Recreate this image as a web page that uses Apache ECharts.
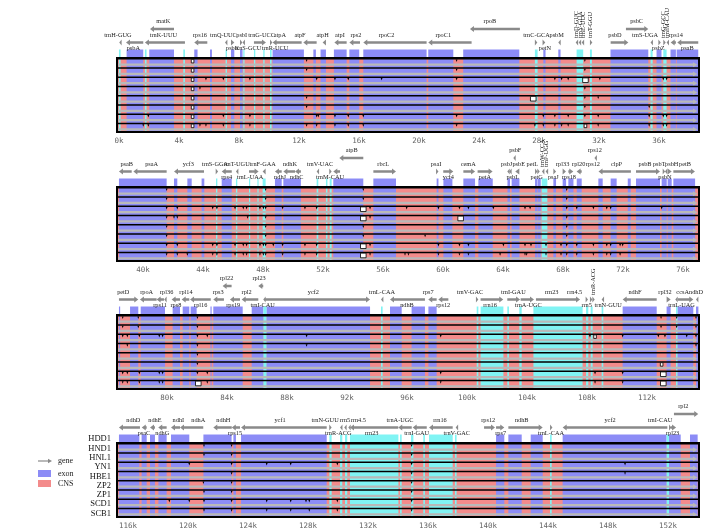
<!DOCTYPE html>
<html><head><meta charset="utf-8">
<script src="https://cdn.jsdelivr.net/npm/echarts@6/dist/echarts.min.js"></script>
<style>html,body{margin:0;padding:0;background:#fff}#c{width:728px;height:532px}</style>
</head><body><div id="c"></div>
<script>
// ---------- DATA ----------
const refName = 'HDD1';
const trackNames = ['HND1','HNL1','YN1','HBE1','ZP2','ZP1','SCD1','SCB1'];
const panelRanges = [[-0.13,38.67],[38.27,77.07],[76.67,115.47],[115.27,154.07]];
const axisLabelValues = [0,4,8,12,16,20,24,28,32,36,40,44,48,52,56,60,64,68,72,76,80,84,88,92,96,100,104,108,112,116,120,124,128,132,136,140,144,148,152];
const legendItems = ['gene','exon','CNS'];

// regions: [start kb, end kb, 'e' exon | 'c' rRNA/tRNA]
const exons1 = [[0.0,0.11,'c'],[0.51,1.62,'e'],[1.73,1.84,'c'],[2.02,3.67,'e'],[4.29,4.4,'c'],[5.02,5.24,'e'],[6.07,6.2,'e'],[7.11,7.2,'c'],[7.47,7.69,'e'],[8.07,8.24,'e'],[8.29,8.36,'c'],[9.0,9.09,'c'],[9.62,9.71,'c'],[10.07,10.18,'c'],[10.24,12.33,'e'],[12.96,13.13,'e'],[13.44,13.8,'e'],[14.33,15.18,'e'],[15.36,16.02,'e'],[16.29,20.51,'e'],[20.62,22.29,'e'],[22.95,26.69,'e'],[27.73,27.91,'c'],[28.29,28.44,'e'],[29.29,29.44,'e'],[30.51,30.95,'c'],[31.4,31.53,'c'],[32.77,35.29,'e'],[35.44,35.58,'c'],[35.84,36.17,'e'],[36.29,36.51,'c'],[36.77,37.13,'e'],[37.18,38.62,'e']];
const exons2 = [[38.4,41.58,'e'],[42.07,42.29,'e'],[42.96,43.25,'e'],[43.91,44.09,'e'],[44.87,44.96,'c'],[45.25,45.92,'e'],[46.2,46.29,'c'],[47.07,47.14,'c'],[47.63,47.71,'c'],[47.98,48.18,'c'],[48.8,49.25,'e'],[49.36,50.53,'e'],[51.58,51.69,'c'],[52.2,52.3,'c'],[52.45,52.58,'c'],[52.69,54.69,'e'],[55.36,56.87,'e'],[59.58,59.7,'e'],[60.03,60.63,'e'],[61.36,62.14,'e'],[62.36,63.32,'e'],[64.3,64.47,'e'],[64.58,65.1,'e'],[66.14,66.3,'e'],[66.32,66.52,'e'],[66.58,66.96,'c'],[67.36,67.54,'e'],[67.98,68.21,'e'],[68.36,68.7,'e'],[68.92,69.25,'e'],[70.36,70.65,'e'],[71.18,71.58,'e'],[72.32,72.52,'e'],[72.87,74.47,'e'],[74.58,74.92,'e'],[74.98,75.25,'e'],[75.36,76.81,'e']];
const exons3 = [[76.8,76.87,'e'],[77.54,78.09,'e'],[78.25,79.87,'e'],[80.38,80.87,'e'],[81.05,81.49,'e'],[81.58,81.98,'e'],[82.9,82.98,'e'],[83.09,85.05,'e'],[85.65,86.43,'e'],[86.43,86.65,'c'],[86.65,93.54,'e'],[94.27,94.38,'c'],[94.87,95.65,'e'],[96.31,97.2,'e'],[97.43,97.98,'e'],[100.65,100.76,'c'],[100.91,102.43,'c'],[102.69,102.8,'c'],[103.49,103.65,'c'],[104.43,107.71,'c'],[107.94,108.09,'c'],[108.25,108.38,'c'],[108.98,109.09,'c'],[110.38,112.65,'e'],[113.31,113.58,'e'],[113.94,114.05,'c'],[114.05,115.09,'e'],[115.27,115.43,'e']];
const exons4 = [[115.4,116.76,'e'],[116.91,117.25,'e'],[117.47,117.8,'e'],[118.03,118.58,'e'],[118.87,120.09,'e'],[121.03,122.91,'e'],[123.03,123.2,'e'],[123.54,129.25,'e'],[129.43,129.58,'c'],[130.14,130.29,'c'],[130.47,130.62,'c'],[130.8,134.03,'c'],[134.14,134.25,'c'],[134.87,135.03,'c'],[135.69,135.8,'c'],[136.07,137.65,'c'],[137.8,137.91,'c'],[140.54,141.09,'e'],[141.36,142.25,'e'],[142.85,143.65,'e'],[144.14,144.25,'c'],[144.98,151.91,'e'],[151.91,152.07,'c'],[152.07,152.85,'e'],[153.47,153.98,'e']];

// genes: [name, start, end, strand, row(0 main / 1 upper), label ('a' above,'b' below,'v' vertical,'' none), label position kb]
const genes1 = [['trnH-GUG',0.02,0.16,-1,0,'a',-0.07],['psbA',0.47,1.62,-1,0,'b',0.96],['matK',2.07,3.67,-1,1,'a',2.96],['trnK-UUU',1.73,4.4,-1,0,'a',2.96],['rps16',5.02,5.89,-1,0,'a',5.4],['trnQ-UUC',7.07,7.2,-1,0,'a',6.96],['psbK',7.47,7.69,1,0,'b',7.58],['psbI',8.07,8.18,1,0,'a',8.18],['trnS-GCU',8.24,8.36,-1,0,'b',8.62],['trnG-UCC',9.0,9.8,1,0,'a',9.51],['trnR-UCU',10.07,10.16,1,0,'b',10.4],['atpA',10.24,12.18,-1,0,'a',10.73],['atpF',12.29,13.18,-1,0,'a',12.07],['atpH',13.58,13.8,-1,0,'a',13.58],['atpI',14.36,15.18,-1,0,'a',14.73],['rps2',15.36,16.07,-1,0,'a',15.8],['rpoC2',16.29,20.51,-1,0,'a',17.84],['rpoC1',20.62,23.51,-1,0,'a',21.62],['rpoB',23.4,26.73,-1,1,'a',24.73],['trnC-GCA',27.73,27.89,1,0,'a',27.84],['petN',28.24,28.42,1,0,'b',28.4],['psbM',29.29,29.44,-1,0,'a',29.18],['trnD-GUC',30.45,30.55,-1,0,'v',30.47],['trnY-GUA',30.65,30.75,-1,0,'v',30.73],['trnE-UUC',30.85,30.95,-1,0,'v',30.96],['trnT-GGU',31.4,31.5,1,0,'v',31.44],['psbD',32.78,33.96,1,0,'a',33.07],['psbC',33.8,35.29,1,1,'a',34.51],['trnS-UGA',35.44,35.58,-1,0,'a',35.07],['psbZ',35.96,36.11,1,0,'b',35.96],['trnG-GCC',36.29,36.42,1,0,'v',36.29],['trnfM-CAU',36.51,36.64,-1,0,'v',36.55],['rps14',36.78,37.13,-1,0,'a',37.13],['psaB',37.22,38.62,-1,0,'b',37.89]];
const genes2 = [['psaB',38.4,39.25,-1,0,'a',38.92],['psaA',39.36,41.58,-1,0,'a',40.58],['ycf3',42.07,44.07,-1,0,'a',43.02],['trnS-GGA',44.85,44.96,1,0,'a',44.8],['rps4',45.25,45.92,-1,0,'b',45.58],['trnT-UGU',46.2,46.29,-1,0,'a',46.25],['trnL-UAA',47.07,47.71,1,0,'b',47.14],['trnF-GAA',47.98,48.18,-1,0,'a',47.98],['ndhJ',48.8,49.25,-1,0,'b',49.14],['ndhK',49.36,50.14,-1,0,'a',49.8],['ndhC',50.14,50.53,-1,0,'b',50.25],['trnV-UAC',51.58,51.69,-1,0,'a',51.8],['trnM-CAU',52.42,52.54,1,0,'b',52.47],['atpE',52.69,53.14,-1,0,'',0],['atpB',53.09,54.69,-1,1,'a',53.92],['rbcL',55.36,56.87,1,0,'a',56.02],['psaI',59.54,59.65,1,0,'a',59.54],['ycf4',60.02,60.69,1,0,'b',60.36],['cemA',61.36,62.14,1,0,'a',61.69],['petA',62.31,63.31,1,0,'b',62.8],['psbJ',64.29,64.42,-1,0,'a',64.25],['psbL',64.42,64.56,-1,0,'b',64.65],['psbF',64.69,64.82,-1,1,'a',64.82],['psbE',64.82,65.09,-1,0,'a',65.05],['petL',66.14,66.25,1,0,'a',65.96],['petG',66.29,66.42,1,0,'b',66.25],['trnW-CCA',66.6,66.7,-1,0,'v',66.65],['trnP-UGG',66.85,66.95,-1,0,'v',66.9],['psaJ',67.36,67.54,1,0,'b',67.36],['rpl33',67.98,68.2,1,0,'a',67.98],['rps18',68.36,68.69,1,0,'b',68.4],['rpl20',68.91,69.25,-1,0,'a',69.05],['rps12',70.1,70.2,-1,1,'a',70.13],['rps12',70.0,70.0,-1,0,'a',70.0],['clpP',70.37,72.53,-1,0,'a',71.57],['psbB',72.87,74.47,1,0,'a',73.47],['psbT',74.65,74.8,1,0,'a',74.42],['psbN',74.8,74.91,-1,0,'b',74.8],['psbH',74.98,75.25,1,0,'a',75.25],['petB',75.36,76.8,1,0,'a',76.14]];
const genes3 = [['petD',76.8,78.09,1,0,'a',77.09],['rpoA',78.2,79.31,-1,0,'a',78.65],['rps11',79.31,79.8,-1,0,'b',79.54],['rpl36',79.82,79.98,-1,0,'a',79.98],['rps8',80.31,80.87,-1,0,'b',80.6],['rpl14',80.98,81.49,-1,0,'a',81.27],['rpl16',81.54,82.92,-1,0,'b',82.25],['rps3',83.09,83.8,-1,0,'a',83.42],['rpl22',83.71,84.31,-1,1,'a',83.98],['rps19',84.2,84.87,-1,0,'b',84.42],['rpl2',84.98,86.09,-1,0,'a',85.31],['rpl23',86.09,86.42,-1,1,'a',86.14],['trnI-CAU',86.42,86.56,-1,0,'b',86.38],['ycf2',86.54,93.54,1,0,'a',89.76],['trnL-CAA',94.27,94.38,-1,0,'a',94.33],['ndhB',94.87,97.2,-1,0,'b',96.0],['rps7',97.42,97.98,-1,0,'a',97.42],['rps12',98.09,98.76,-1,0,'b',98.42],['trnV-GAC',100.6,100.74,1,0,'a',100.2],['rrn16',100.91,102.42,1,0,'b',101.54],['trnI-GAU',102.69,103.54,1,0,'a',103.09],['trnA-UGC',103.58,104.47,1,0,'b',104.09],['rrn23',104.6,107.54,1,0,'a',105.65],['rrn4.5',107.91,108.02,1,0,'a',107.18],['rrn5',108.2,108.31,1,0,'b',107.98],['trnR-ACG',108.36,108.44,1,0,'v',108.4],['trnN-GUU',108.98,109.09,-1,0,'b',109.42],['ndhF',110.38,112.65,-1,0,'a',111.2],['rpl32',113.31,113.58,1,0,'a',113.2],['trnL-UAG',113.89,114.0,-1,0,'b',114.31],['ccsA',114.05,115.09,1,0,'a',114.38],['ndhD',115.27,115.42,-1,0,'a',115.27]];
const genes4 = [['ndhD',115.4,116.8,-1,0,'a',116.36],['psaC',116.92,117.25,-1,0,'b',117.07],['ndhE',117.47,117.8,-1,0,'a',117.8],['ndhG',118.02,118.58,-1,0,'b',118.29],['ndhI',118.87,119.47,-1,0,'a',119.36],['ndhA',119.47,121.02,-1,0,'a',120.69],['ndhH',121.69,122.92,-1,0,'a',122.36],['rps15',122.92,123.47,-1,0,'b',123.14],['ycf1',123.54,129.25,-1,0,'a',126.14],['trnN-GUU',129.42,129.54,1,0,'a',129.14],['trnR-ACG',130.14,130.25,-1,0,'b',130.02],['rrn5',130.42,130.54,-1,0,'a',130.47],['rrn4.5',130.69,130.8,-1,0,'a',131.36],['rrn23',130.8,134.02,-1,0,'b',132.25],['trnA-UGC',134.02,134.92,-1,0,'a',134.14],['trnI-GAU',134.98,135.92,-1,0,'b',135.25],['rrn16',136.07,137.65,-1,0,'a',136.8],['trnV-GAC',137.85,137.96,-1,0,'b',137.92],['rps12',139.74,140.47,1,0,'a',140.02],['rps7',140.54,141.09,1,0,'b',140.85],['ndhB',141.36,143.65,1,0,'a',142.25],['trnL-CAA',144.14,144.25,1,0,'b',144.2],['ycf2',144.98,151.96,-1,0,'a',148.14],['trnI-CAU',152.07,152.2,1,0,'a',151.47],['rpl23',152.2,152.54,1,0,'b',152.31],['rpl2',152.4,154.02,1,1,'a',153.02]];

// similarity dips (kb) per track, positions shared by all tracks, and larger gaps [kb, track, size]
const dips1 = [[12.51,22.51,31.06],[12.51,22.51,31.06],[5.8,6.96,8.73,13.18,14.4,15.29,17.51,22.51,29.06,29.51,29.95,32.06,36.29,36.51],[5.4,31.06],[12.51,31.06,31.95],[12.51,31.06,35.35],[1.96,6.96,8.73,13.18,13.29,14.4,15.29,16.29,22.51,28.29,29.06,29.95,31.06,31.95,35.35,36.29,36.51],[1.62,1.96,5.4,5.8,6.96,8.73,12.51,13.18,14.4,15.29,16.29,22.51,27.73,28.29,29.06,29.51,29.95,31.95,35.35,36.29,36.51]];
const dipsAll1 = [];
const gaps1 = [[4.91,0,1],[4.91,1,1],[4.91,2,1],[4.91,3,1],[4.91,4,1],[4.91,5,1],[4.91,6,1],[4.91,7,1],[31.1,2,2],[27.62,4,2],[31.1,7,1]];
const dips2 = [[],[],[42.29,44.65,44.93,46.14,46.69,46.91,47.8,48.03,49.31,50.8,51.58,55.14,57.58,59.7,61.1,61.7,63.36,65.47,65.81,68.92,70.03,70.92,71.18,74.58],[42.07,42.29,46.98,55.14],[],[58.81],[42.29,44.65,44.93,46.14,46.69,46.91,47.8,48.03,48.69,49.31,50.8,51.58,55.14,59.7,61.1,61.7,64.03,65.47,65.87,66.87,67.87,68.92,70.03,70.92,71.18,71.81,71.98],[42.29,42.96,44.65,44.93,46.14,46.69,46.91,47.8,48.03,49.31,50.8,51.58,55.14,57.47,57.7,59.7,61.1,61.7,63.81,65.47,65.58,66.87,67.87,68.92,70.03,70.92,71.18,71.81]];
const dipsAll2 = [41.58,48.18,54.69,68.25];
const gaps2 = [[54.69,2,2],[54.69,3,2],[54.69,6,2],[54.69,7,2],[61.18,3,2]];
const dips3 = [[77.05,78.09,112.94,113.98,115.27],[77.05,78.09,112.94,113.98,115.27],[77.05,77.36,78.16,79.49,79.71,82.69,89.31,98.25,108.2,110.38,112.76,113.2,114.65,115.27],[77.36,89.31,115.27],[],[],[77.05,77.36,78.16,79.49,79.71,82.69,98.25,108.54,110.38],[77.05,77.36,78.16,79.49,79.71,82.69,98.25,108.54,110.38]];
const dipsAll3 = [82.03];
const gaps3 = [[82.09,7,2],[112.98,5,1],[113.09,6,2],[113.09,7,2],[108.54,2,1]];
const dips4 = [[121.07],[121.07],[120.09,125.25,126.85,129.96,149.14],[149.14],[121.03],[121.07],[118.76,120.09,121.07,125.25,126.85,127.87,128.09,129.96],[121.07,125.25,126.85,128.09,129.96]];
const dipsAll4 = [122.91,134.91];
const gaps4 = [];

// ---------- DRAWING ----------
const PURPLE = '#8c8cf6', PINK = '#f38b8b', CYAN = '#80f4f4', GRAY = '#b9b9b9', ARROW = '#8a8a8a';
const SERIF = 'Liberation Serif';
const exonsAll = [exons1, exons2, exons3, exons4];
const genesAll = [genes1, genes2, genes3, genes4];
const dipsTracks = [dips1, dips2, dips3, dips4];
const dipsShared = [dipsAll1, dipsAll2, dipsAll3, dipsAll4];
const gapsAll = [gaps1, gaps2, gaps3, gaps4];
const boxTops = [58, 187, 315, 443];
const boxH = 74;

function bgRender(p){ return function(params, api){
  const r = panelRanges[p];
  const a = api.coord([r[0],0]), b = api.coord([r[1],8]);
  return {type:'rect', shape:{x:a[0], y:a[1], width:b[0]-a[0], height:b[1]-a[1]}, style:{fill:PINK}};
};}
function regionRender(params, api){
  const a = api.coord([api.value(0),0]), b = api.coord([api.value(1),8]);
  const color = api.value(2) === 1 ? CYAN : PURPLE;
  const w = Math.max(b[0]-a[0], 1.2);
  return {type:'group', children:[
    {type:'rect', shape:{x:a[0], y:a[1], width:w, height:b[1]-a[1]}, style:{fill:color}},
    {type:'rect', shape:{x:a[0], y:a[1]-8.5, width:w, height:8}, style:{fill:color}}
  ]};
}
function overlayRender(p){ return function(params, api){
  const r = panelRanges[p];
  const a = api.coord([r[0],0]), b = api.coord([r[1],8]);
  const x0=a[0], x1=b[0], y0=a[1], y1=b[1], th=(y1-y0)/8;
  const ch = [];
  for (let t=0;t<8;t++){
    const ty = y0 + t*th;
    const gy = ty + th*0.6, gh = th*0.25;
    ch.push({type:'rect', shape:{x:x0, y:gy, width:x1-x0-5, height:gh}, style:{fill:GRAY}});
    ch.push({type:'polygon', shape:{points:[[x1-6,gy-1.3],[x1-1.5,gy+gh/2],[x1-6,gy+gh+1.3]]}, style:{fill:GRAY}});
    ch.push({type:'rect', shape:{x:x0, y:ty, width:x1-x0, height:1.6}, style:{fill:'#000'}});
    if (p === 3) {
      ch.push({type:'text', style:{text:trackNames[t], x:111, y:ty+th/2+1, align:'right', verticalAlign:'middle', font:'8.5px "'+SERIF+'"', fill:'#111'}});
    }
  }
  if (p === 3) ch.push({type:'text', style:{text:refName, x:111, y:y0-4.5, align:'right', verticalAlign:'middle', font:'8.5px "'+SERIF+'"', fill:'#111'}});
  ch.push({type:'rect', shape:{x:x0, y:y0, width:x1-x0, height:y1-y0}, style:{fill:'none', stroke:'#000', lineWidth:2}});
  return {type:'group', children:ch};
};}
function dipRender(params, api){
  const k = api.value(0), t = api.value(1), sz = api.value(2);
  const pt = api.coord([k,t]);
  const th = Math.abs(api.size([0,1])[1]);
  const x = pt[0], y = pt[1] + 1.4;
  if (sz === 0) return {type:'polygon', shape:{points:[[x-0.9,y],[x+0.9,y],[x,y+2.6]]}, style:{fill:'#000'}};
  const hw = sz === 2 ? 2.8 : 1.3, hh = sz === 2 ? th*0.5 : th*0.38;
  return {type:'rect', shape:{x:x-hw, y:y, width:2*hw, height:hh}, style:{fill:'#fff', stroke:'#000', lineWidth:0.8}};
}
function geneRender(p){ return function(params, api){
  const g = genesAll[p][params.dataIndex];
  const name=g[0], s=g[1], e=g[2], strand=g[3], row=g[4], lp=g[5], lx=g[6];
  const ps = api.coord([s,0]), pe = api.coord([e,0]);
  const B = ps[1], xs = ps[0], xe = pe[0];
  const y = B - (row ? 29 : 15.5);
  const ch = [];
  const w = xe - xs;
  if (w > 0) {
    const hl = 4, hh = 2.9, st = 1.35;
    let pts;
    if (w <= 4.5) {
      const ww = Math.max(w, 2.4);
      pts = strand > 0 ? [[xs,y-hh],[xs+ww,y],[xs,y+hh]] : [[xs+ww,y-hh],[xs,y],[xs+ww,y+hh]];
    } else if (strand > 0) {
      pts = [[xs,y-st],[xe-hl,y-st],[xe-hl,y-hh],[xe,y],[xe-hl,y+hh],[xe-hl,y+st],[xs,y+st]];
    } else {
      pts = [[xe,y-st],[xs+hl,y-st],[xs+hl,y-hh],[xs,y],[xs+hl,y+hh],[xs+hl,y+st],[xe,y+st]];
    }
    ch.push({type:'polygon', shape:{points:pts}, style:{fill:ARROW}});
  }
  if (lp) {
    const tx = api.coord([lx,0])[0];
    const font = '6.3px "'+SERIF+'"';
    if (lp === 'v') {
      ch.push({type:'text', x:tx, y:y-4.5, rotation:Math.PI/2, style:{text:name, x:0, y:0, align:'left', verticalAlign:'middle', font:font, fill:'#222'}});
    } else {
      ch.push({type:'text', style:{text:name, x:tx, y:lp==='a' ? y-7.5 : y+5.5, align:'center', verticalAlign:'middle', font:font, fill:'#222'}});
    }
  }
  return {type:'group', children:ch};
};}

const grids=[], xAxes=[], yAxes=[], series=[];
for (let p=0;p<4;p++){
  const r = panelRanges[p];
  grids.push({left:117, width:582, top:boxTops[p], height:boxH});
  const labels = axisLabelValues.filter(v => v >= r[0] && v <= r[1]);
  const ticks = [];
  for (let v = Math.ceil(r[0]/2)*2; v <= r[1]; v += 2) ticks.push(v);
  xAxes.push({gridIndex:p, type:'value', min:r[0], max:r[1], position:'bottom',
    axisLine:{show:false}, splitLine:{show:false},
    axisTick:{show:true, customValues:ticks, length:3, lineStyle:{color:'#777', width:0.8}},
    axisLabel:{customValues:labels, formatter:v => v + 'k', fontFamily:'DejaVu Sans Mono', fontSize:7.5, color:'#666', margin:5}});
  yAxes.push({gridIndex:p, type:'value', min:0, max:8, inverse:true, show:false});
  const common = {type:'custom', coordinateSystem:'cartesian2d', xAxisIndex:p, yAxisIndex:p, silent:true, clip:false, animation:false};
  series.push(Object.assign({}, common, {z:1, renderItem:bgRender(p), data:[[r[0], 0]]}));
  series.push(Object.assign({}, common, {z:2, renderItem:regionRender, data:exonsAll[p].map(d => [d[0], d[1], d[2]==='c'?1:0])}));
  series.push(Object.assign({}, common, {z:3, renderItem:overlayRender(p), data:[[r[0], 0]]}));
  const dd = [];
  dipsTracks[p].forEach((arr,t) => arr.forEach(k => dd.push([k,t,0])));
  dipsShared[p].forEach(k => { for (let t=0;t<8;t++) dd.push([k,t,0]); });
  gapsAll[p].forEach(g => dd.push([g[0], g[1], g[2]]));
  series.push(Object.assign({}, common, {z:4, renderItem:dipRender, data:dd}));
  series.push(Object.assign({}, common, {z:5, renderItem:geneRender(p), data:genesAll[p].map(g => [g[1], g[2]])}));
}

const lf = '8px "'+SERIF+'"';
const chart = echarts.init(document.getElementById('c'));
chart.setOption({
  animation:false,
  grid:grids, xAxis:xAxes, yAxis:yAxes, series:series,
  graphic:[
    {type:'line', shape:{x1:38, y1:461, x2:49, y2:461}, style:{stroke:ARROW, lineWidth:1.2}},
    {type:'polygon', shape:{points:[[48,458.8],[52,461],[48,463.2]]}, style:{fill:ARROW}},
    {type:'text', style:{text:legendItems[0], x:58, y:461, verticalAlign:'middle', font:lf, fill:'#222'}},
    {type:'rect', shape:{x:38, y:470, width:13, height:7}, style:{fill:PURPLE}},
    {type:'text', style:{text:legendItems[1], x:58, y:473.5, verticalAlign:'middle', font:lf, fill:'#222'}},
    {type:'rect', shape:{x:38, y:480, width:13, height:7}, style:{fill:PINK}},
    {type:'text', style:{text:legendItems[2], x:58, y:483.5, verticalAlign:'middle', font:lf, fill:'#222'}}
  ]
});
</script>
</body></html>
